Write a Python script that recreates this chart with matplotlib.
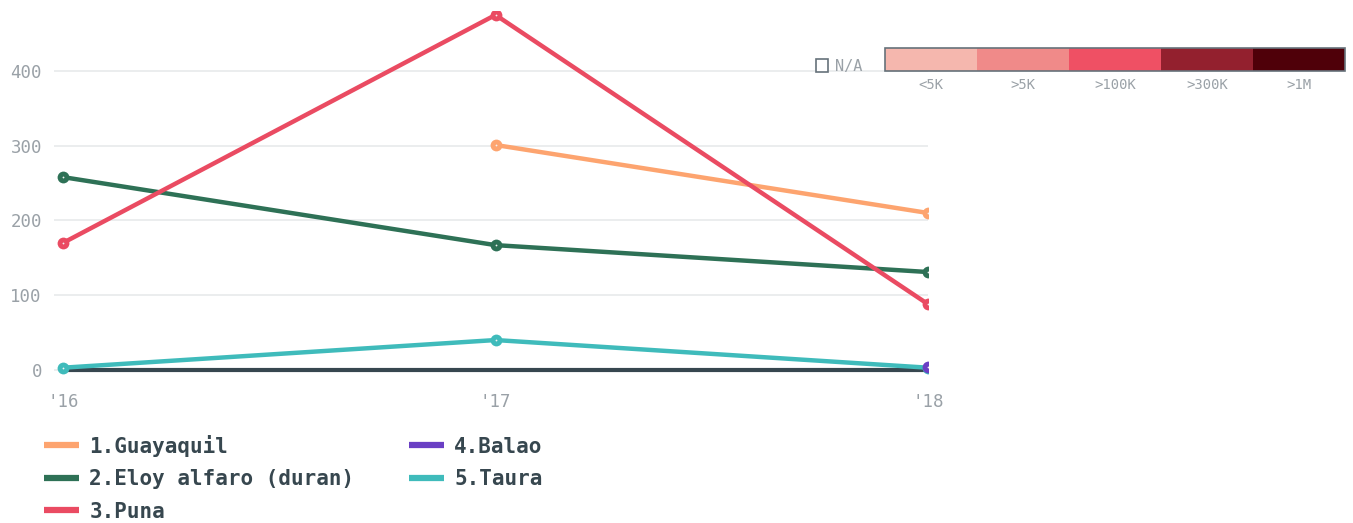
import numpy as np
import matplotlib.pyplot as plt
from matplotlib.patches import Rectangle
from matplotlib.lines import Line2D

# data
years = ["'16", "'17", "'18"]
guayaquil = [np.nan, 301, 210]
eloy_alfaro = [258, 167, 131]
puna = [170, 475, 88]
balao = [np.nan, np.nan, 4]
taura = [3, 40, 3]

series_names = ["1.Guayaquil", "2.Eloy alfaro (duran)", "3.Puna", "4.Balao", "5.Taura"]
series_values = [guayaquil, eloy_alfaro, puna, balao, taura]
series_colors = ["#fda46f", "#2e7156", "#ea4b62", "#6a3fc4", "#3fbbbb"]
series_z = [3, 3, 3, 5, 4]

y_ticks = [0, 100, 200, 300, 400]

scale_labels = ["<5K", ">5K", ">100K", ">300K", ">1M"]
scale_colors = ["#f5b7ae", "#f08a89", "#ef5064", "#93202e", "#4f0009"]

MONO = "DejaVu Sans Mono"
TICK_COLOR = "#9aa1a7"
TEXT_COLOR = "#37474f"

fig = plt.figure(figsize=(13.53, 5.23), dpi=100)
ax = fig.add_axes([0.0402, 0.2855, 0.6457, 0.6931])

x = np.arange(len(years))

# baseline at zero
ax.plot([x[0], x[-1]], [0, 0], color=TEXT_COLOR, lw=3, zorder=2, solid_capstyle="butt")

for vals, col, z in zip(series_values, series_colors, series_z):
    ax.plot(x, vals, color=col, lw=3.2, zorder=z, marker="o", ms=8.5, mfc=col, mec=col, mew=0)
    ax.plot(x, vals, ls="none", marker="o", ms=1.3, mew=0, color="#f2f2f2", zorder=z)

ax.set_xlim(-0.02, 2.0)
ax.set_ylim(-5, 480)
ax.set_yticks(y_ticks)
ax.set_xticks(x)
ax.set_xticklabels(years)
ax.grid(axis="y", color="#e8eaeb", lw=1.2)
ax.set_axisbelow(True)
for s in ax.spines.values():
    s.set_visible(False)
ax.tick_params(length=0, colors=TICK_COLOR, labelsize=12.5)
ax.tick_params(axis="y", pad=9)
ax.tick_params(axis="x", pad=14)
for lab in ax.get_xticklabels() + ax.get_yticklabels():
    lab.set_fontfamily(MONO)

handles = [Line2D([], [], color=c, lw=4.5, solid_capstyle="butt") for c in series_colors]
leg = fig.legend(handles, series_names, loc="upper left", bbox_to_anchor=(0.0327, 0.169), ncol=2,
                 frameon=False, handlelength=1.68, handletextpad=0.48,
                 columnspacing=2.64, labelspacing=0.6, borderaxespad=0, borderpad=0,
                 prop={"family": MONO, "weight": "bold", "size": 15})
for t in leg.get_texts():
    t.set_color(TEXT_COLOR)

# colour scale legend, top right
x0, y0 = 885 / 1353, 1 - 71 / 523
seg_w = (1345 - 885) / 1353 / len(scale_colors)
seg_h = 23 / 523
for i, (lab, col) in enumerate(zip(scale_labels, scale_colors)):
    fig.add_artist(Rectangle((x0 + i * seg_w, y0), seg_w, seg_h, transform=fig.transFigure,
                             facecolor=col, edgecolor="none"))
    fig.text(x0 + (i + 0.5) * seg_w, 1 - 85 / 523, lab, ha="center", va="center",
             color=TICK_COLOR, family=MONO, fontsize=10)
fig.add_artist(Rectangle((x0, y0), seg_w * len(scale_colors), seg_h, transform=fig.transFigure,
                         facecolor="none", edgecolor="#66727a", lw=1.2))

fig.add_artist(Rectangle((816 / 1353, 1 - 72 / 523), 12 / 1353, 13 / 523,
                         transform=fig.transFigure, facecolor="white",
                         edgecolor="#66727a", lw=1.2))
fig.text(835 / 1353, 1 - 66 / 523, "N/A", ha="left", va="center",
         color=TICK_COLOR, family=MONO, fontsize=11)

fig.savefig("out.png", dpi=100)
